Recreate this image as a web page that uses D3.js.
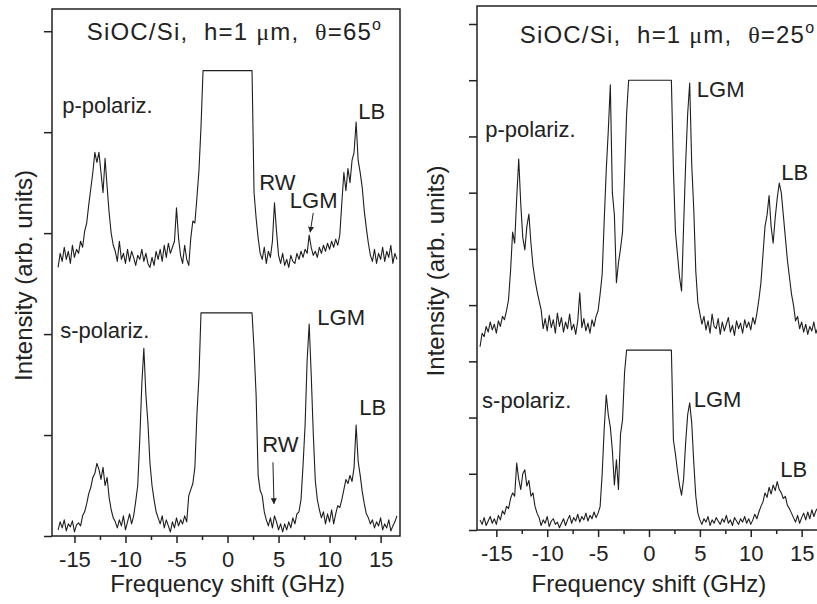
<!DOCTYPE html>
<html>
<head>
<meta charset="utf-8">
<script src="https://cdn.jsdelivr.net/npm/d3@7"></script>
<style>
  body { margin: 0; background: #fff; }
  svg { display: block; font-family: 'Liberation Sans', Arial, Helvetica, sans-serif; }
  .frame { fill: none; stroke: #222; stroke-width: 1.5; }
  .spectrum { fill: none; stroke: #1e1e1e; stroke-width: 1.1; stroke-linejoin: round; }
  .tick line { stroke: #222; stroke-width: 1.5; }
  .tick text { font-size: 22px; fill: #222; }
  .note { font-size: 22px; fill: #222; }
  .title { font-size: 24px; letter-spacing: 1.2px; fill: #222; white-space: pre; }
  .axis-title { font-size: 24px; fill: #222; }
  .arrow { stroke: #222; stroke-width: 1; }
</style>
</head>
<body>
<svg id="chart" width="817" height="604"></svg>
<script>
'use strict';

// sampling grid of the spectra, GHz
const freqGHz = d3.range(-166, 167, 2).map(d => d / 10);

// theta = 65 deg, p-polarization (arb. units)
const pPolar65 = [
    2.66, 2.80, 2.72, 2.86, 2.74, 2.82, 2.70, 2.88, 2.76, 2.84,
    2.80, 2.92, 2.86, 3.02, 3.10, 3.28, 3.44, 3.60, 3.80, 3.70,
    3.80, 3.60, 3.40, 3.74, 3.46, 3.20, 3.00, 2.88, 2.82, 2.72,
    2.92, 2.74, 2.80, 2.70, 2.84, 2.72, 2.82, 2.76, 2.68, 2.78,
    2.74, 2.84, 2.72, 2.80, 2.70, 2.66, 2.76, 2.68, 2.82, 2.74,
    2.84, 2.72, 2.88, 2.76, 2.90, 2.80, 2.86, 2.92, 3.25, 2.95,
    2.78, 2.70, 2.88, 2.74, 2.68, 2.95, 3.12, 3.10, 3.35, 3.62,
    4.05, 4.61, 4.61, 4.61, 4.61, 4.61, 4.61, 4.61, 4.61, 4.61,
    4.61, 4.61, 4.61, 4.61, 4.61, 4.61, 4.61, 4.61, 4.61, 4.61,
    4.61, 4.61, 4.61, 4.61, 4.61, 4.61, 3.40, 3.15, 2.95, 2.80,
    2.74, 2.86, 2.70, 2.82, 2.76, 2.92, 3.30, 3.02, 2.78, 2.70,
    2.80, 2.68, 2.74, 2.66, 2.78, 2.72, 2.70, 2.80, 2.74, 2.82,
    2.76, 2.84, 2.80, 2.98, 2.86, 2.78, 2.82, 2.76, 2.86, 2.80,
    2.88, 2.82, 2.90, 2.84, 2.92, 2.86, 2.94, 2.88, 2.98, 3.30,
    3.60, 3.42, 3.64, 3.50, 3.72, 3.80, 4.10, 3.72, 3.60, 3.45,
    3.22, 3.05, 2.90, 2.78, 2.72, 2.84, 2.70, 2.80, 2.74, 2.86,
    2.72, 2.82, 2.76, 2.88, 2.70, 2.80, 2.74
];

// theta = 65 deg, s-polarization
const sPolar65 = [
    0.06, 0.14, 0.08, 0.16, 0.05, 0.12, 0.09, 0.15, 0.04, 0.11,
    0.13, 0.10, 0.20, 0.24, 0.32, 0.42, 0.48, 0.58, 0.62, 0.72,
    0.66, 0.56, 0.68, 0.50, 0.58, 0.38, 0.26, 0.18, 0.14, 0.08,
    0.16, 0.10, 0.20, 0.06, 0.14, 0.22, 0.12, 0.20, 0.34, 0.50,
    0.95, 1.50, 1.86, 1.40, 1.12, 0.72, 0.50, 0.36, 0.24, 0.18,
    0.12, 0.20, 0.08, 0.16, 0.10, 0.04, 0.14, 0.08, 0.18, 0.10,
    0.16, 0.12, 0.20, 0.14, 0.40, 0.46, 0.52, 0.68, 1.20, 1.58,
    2.21, 2.21, 2.21, 2.21, 2.21, 2.21, 2.21, 2.21, 2.21, 2.21,
    2.21, 2.21, 2.21, 2.21, 2.21, 2.21, 2.21, 2.21, 2.21, 2.21,
    2.21, 2.21, 2.21, 2.21, 2.21, 2.21, 1.85, 1.40, 0.60, 0.45,
    0.40, 0.24, 0.16, 0.10, 0.18, 0.08, 0.20, 0.14, 0.06, 0.12,
    0.04, 0.12, 0.06, 0.14, 0.08, 0.18, 0.12, 0.22, 0.24, 0.36,
    0.70, 1.10, 1.74, 2.10, 1.60, 1.02, 0.55, 0.36, 0.26, 0.18,
    0.24, 0.12, 0.22, 0.14, 0.26, 0.12, 0.22, 0.30, 0.28, 0.36,
    0.46, 0.56, 0.52, 0.60, 0.54, 0.68, 1.10, 0.74, 0.60, 0.44,
    0.32, 0.22, 0.18, 0.12, 0.16, 0.08, 0.14, 0.10, 0.18, 0.06,
    0.12, 0.08, 0.16, 0.05, 0.10, 0.14, 0.20
];

// theta = 25 deg, p-polarization
const pPolar25 = [
    3.26, 3.50, 3.44, 3.62, 3.52, 3.70, 3.56, 3.66, 3.50, 3.72,
    3.62, 3.80, 3.74, 3.90, 4.10, 4.62, 5.30, 5.10, 5.90, 6.60,
    5.80, 5.20, 4.98, 5.40, 5.62, 5.10, 4.70, 4.45, 4.25, 4.08,
    3.92, 3.58, 3.76, 3.54, 3.82, 3.60, 3.74, 3.50, 3.86, 3.62,
    3.78, 3.52, 3.70, 3.58, 3.84, 3.56, 3.66, 3.48, 3.72, 4.22,
    3.60, 3.76, 3.54, 3.68, 3.50, 3.74, 3.62, 3.80, 3.90, 4.20,
    4.55, 5.50, 6.40, 7.10, 7.92, 6.00, 5.60, 4.40, 4.75, 5.00,
    5.30, 6.30, 7.40, 8.00, 8.00, 8.00, 8.00, 8.00, 8.00, 8.00,
    8.00, 8.00, 8.00, 8.00, 8.00, 8.00, 8.00, 8.00, 8.00, 8.00,
    8.00, 8.00, 8.00, 8.00, 8.00, 6.40, 5.30, 4.90, 4.50, 4.25,
    5.40, 6.50, 7.40, 7.95, 6.50, 5.70, 4.60, 4.05, 3.85, 3.66,
    3.80, 3.56, 3.72, 3.50, 3.84, 3.62, 3.58, 3.76, 3.48, 3.70,
    3.54, 3.66, 3.78, 3.52, 3.64, 3.46, 3.72, 3.58, 3.68, 3.50,
    3.74, 3.60, 3.70, 3.56, 3.78, 3.66, 3.85, 4.10, 4.40, 4.90,
    5.40, 5.60, 5.95, 5.40, 5.10, 5.55, 5.90, 6.17, 6.00, 5.60,
    5.20, 4.80, 4.50, 4.20, 4.00, 3.72, 3.80, 3.58, 3.70, 3.52,
    3.66, 3.48, 3.62, 3.54, 3.70, 3.50, 3.60
];

// theta = 25 deg, s-polarization
const sPolar25 = [
    0.18, 0.10, 0.22, 0.08, 0.16, 0.24, 0.12, 0.20, 0.10, 0.26,
    0.18, 0.34, 0.28, 0.42, 0.38, 0.56, 0.66, 0.60, 1.19, 0.90,
    0.72, 1.00, 1.07, 0.78, 0.88, 0.60, 0.66, 0.42, 0.30, 0.22,
    0.08, 0.18, 0.12, 0.24, 0.06, 0.16, 0.20, 0.10, 0.14, 0.04,
    0.12, 0.20, 0.08, 0.18, 0.26, 0.12, 0.22, 0.16, 0.28, 0.14,
    0.24, 0.18, 0.30, 0.16, 0.26, 0.20, 0.32, 0.22, 0.30, 0.42,
    1.00, 1.80, 2.40, 2.05, 1.83, 1.42, 0.80, 1.25, 0.72, 1.70,
    1.96, 2.80, 3.20, 3.20, 3.20, 3.20, 3.20, 3.20, 3.20, 3.20,
    3.20, 3.20, 3.20, 3.20, 3.20, 3.20, 3.20, 3.20, 3.20, 3.20,
    3.20, 3.20, 3.20, 3.20, 3.20, 1.60, 1.35, 1.05, 0.80, 0.62,
    0.90, 1.55, 2.05, 2.26, 1.90, 1.20, 0.60, 0.30, 0.18, 0.10,
    0.20, 0.14, 0.24, 0.08, 0.18, 0.12, 0.22, 0.16, 0.10, 0.20,
    0.14, 0.26, 0.12, 0.18, 0.08, 0.22, 0.16, 0.10, 0.20, 0.14,
    0.24, 0.12, 0.20, 0.10, 0.18, 0.28, 0.20, 0.32, 0.42, 0.50,
    0.66, 0.58, 0.76, 0.64, 0.80, 0.70, 0.86, 0.72, 0.66, 0.56,
    0.60, 0.44, 0.38, 0.30, 0.22, 0.14, 0.26, 0.12, 0.22, 0.30,
    0.18, 0.32, 0.20, 0.36, 0.24, 0.34, 0.40
];

const majorTicks = [-15, -10, -5, 0, 5, 10, 15];
const minorTicks = [-12.5, -7.5, -2.5, 2.5, 7.5, 12.5];

// peak labels, placed in data coordinates (GHz, arb. units)
const labels65 = [
    { text: 'p-polariz.', f: -16.2, v: 4.19 },
    { text: 'LB', f: 12.8, v: 4.13 },
    { text: 'RW', f: 3.1, v: 3.43 },
    { text: 'LGM', f: 6.1, v: 3.25 },
    { text: 's-polariz.', f: -16.4, v: 1.96 },
    { text: 'LGM', f: 8.8, v: 2.09 },
    { text: 'LB', f: 12.9, v: 1.20 },
    { text: 'RW', f: 3.4, v: 0.83 }
];
const arrows65 = [
    { from: [8.4, 3.20], to: [8.1, 3.01] },
    { from: [4.45, 0.73], to: [4.55, 0.32] }
];
const labels25 = [
    { text: 'p-polariz.', f: -16.1, v: 6.99 },
    { text: 'LGM', f: 4.7, v: 7.70 },
    { text: 'LB', f: 13.0, v: 6.23 },
    { text: 's-polariz.', f: -16.4, v: 2.17 },
    { text: 'LGM', f: 4.4, v: 2.19 },
    { text: 'LB', f: 12.9, v: 0.94 }
];

const panels = [
    {
        box: { left: 52, right: 400, top: 9, bottom: 536 },
        xDomain: [-17.2, 16.9], yMax: 5.22, yTicks: d3.range(0, 6),
        angle: '65', titleAt: [-13.8, 4.91], yTitleX: 32,
        series: [pPolar65, sPolar65], labels: labels65, arrows: arrows65
    },
    {
        box: { left: 477, right: 822, top: 6, bottom: 530 },
        xDomain: [-16.9, 17.0], yMax: 9.32, yTicks: d3.range(0, 10),
        angle: '25', titleAt: [-12.7, 8.67], yTitleX: 444,
        series: [pPolar25, sPolar25], labels: labels25, arrows: []
    }
];

const svg = d3.select('#chart');

svg.append('defs').append('marker')
    .attr('id', 'head')
    .attr('viewBox', '0 0 10 10')
    .attr('refX', 9).attr('refY', 5)
    .attr('markerWidth', 6).attr('markerHeight', 6)
    .attr('markerUnits', 'userSpaceOnUse')
    .attr('orient', 'auto')
    .append('path')
    .attr('d', 'M0,0L10,5L0,10z')
    .attr('fill', '#222');

panels.forEach(drawPanel);

function drawPanel(p) {
    const b = p.box;
    const x = d3.scaleLinear().domain(p.xDomain).range([b.left, b.right]);
    const y = d3.scaleLinear().domain([0, p.yMax]).range([b.bottom, b.top]);
    const g = svg.append('g');

    const line = d3.line()
        .x((d, i) => x(freqGHz[i]))
        .y(d => y(d));

    p.series.forEach(values => {
        g.append('path')
            .attr('class', 'spectrum')
            .attr('d', line(values));
    });

    // ticks
    const minor = g.append('g')
        .attr('transform', `translate(0,${b.bottom})`)
        .call(d3.axisBottom(x).tickValues(minorTicks).tickSize(4).tickFormat(''));
    const major = g.append('g')
        .attr('transform', `translate(0,${b.bottom})`)
        .call(d3.axisBottom(x).tickValues(majorTicks).tickSize(7).tickFormat(String));
    major.selectAll('text').attr('y', 31).attr('dy', 0);

    const yAxis = g.append('g')
        .attr('transform', `translate(${b.left},0)`)
        .call(d3.axisLeft(y).tickValues(p.yTicks).tickSize(8).tickFormat(''));

    [minor, major, yAxis].forEach(a => a.select('.domain').remove());

    g.append('rect')
        .attr('class', 'frame')
        .attr('x', b.left).attr('y', b.top)
        .attr('width', b.right - b.left)
        .attr('height', b.bottom - b.top);

    // title
    const title = g.append('text')
        .attr('class', 'title')
        .attr('x', x(p.titleAt[0]))
        .attr('y', y(p.titleAt[1]));
    title.append('tspan').text('SiOC/Si,  h=1 ');
    title.append('tspan').attr('font-family', 'Liberation Serif, serif').text('\u03bc');
    title.append('tspan').text('m,  ');
    title.append('tspan').attr('font-family', 'Liberation Serif, serif').text('\u03b8');
    title.append('tspan').text('=' + p.angle);
    title.append('tspan').attr('dy', -10).attr('font-size', 16).text('o');

    g.selectAll('.note')
        .data(p.labels)
        .join('text')
        .attr('class', 'note')
        .attr('x', d => x(d.f))
        .attr('y', d => y(d.v))
        .text(d => d.text);

    g.selectAll('.arrow')
        .data(p.arrows)
        .join('line')
        .attr('class', 'arrow')
        .attr('x1', d => x(d.from[0])).attr('y1', d => y(d.from[1]))
        .attr('x2', d => x(d.to[0])).attr('y2', d => y(d.to[1]))
        .attr('marker-end', 'url(#head)');

    // axis titles
    g.append('text')
        .attr('class', 'axis-title')
        .attr('text-anchor', 'middle')
        .attr('x', x(0))
        .attr('y', 592)
        .text('Frequency shift (GHz)');

    g.append('text')
        .attr('class', 'axis-title')
        .attr('text-anchor', 'middle')
        .attr('transform', `translate(${p.yTitleX},${(b.top + b.bottom) / 2 + 3}) rotate(-90)`)
        .text('Intensity (arb. units)');
}
</script>
</body>
</html>
